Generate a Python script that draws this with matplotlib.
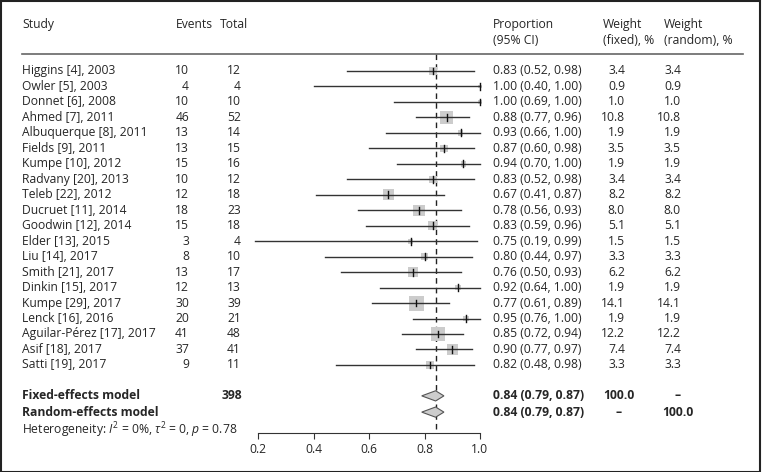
import matplotlib
matplotlib.use('Agg')
import matplotlib.pyplot as plt
from matplotlib.transforms import blended_transform_factory
from matplotlib.patches import Rectangle, Polygon
import numpy as np

plt.rcParams['font.family'] = ['Open Sans', 'DejaVu Sans']
plt.rcParams['mathtext.fontset'] = 'custom'
plt.rcParams['mathtext.rm'] = 'Open Sans'
plt.rcParams['mathtext.it'] = 'Open Sans:italic'

studies = ['Higgins [4], 2003', 'Owler [5], 2003', 'Donnet [6], 2008', 'Ahmed [7], 2011',
           'Albuquerque [8], 2011', 'Fields [9], 2011', 'Kumpe [10], 2012', 'Radvany [20], 2013',
           'Teleb [22], 2012', 'Ducruet [11], 2014', 'Goodwin [12], 2014', 'Elder [13], 2015',
           'Liu [14], 2017', 'Smith [21], 2017', 'Dinkin [15], 2017', 'Kumpe [29], 2017',
           'Lenck [16], 2016', 'Aguilar-Pérez [17], 2017', 'Asif [18], 2017', 'Satti [19], 2017']
events = [10, 4, 10, 46, 13, 13, 15, 10, 12, 18, 15, 3, 8, 13, 12, 30, 20, 41, 37, 9]
totals = [12, 4, 10, 52, 14, 15, 16, 12, 18, 23, 18, 4, 10, 17, 13, 39, 21, 48, 41, 11]
prop = [0.83, 1.00, 1.00, 0.88, 0.93, 0.87, 0.94, 0.83, 0.67, 0.78, 0.83, 0.75, 0.80, 0.76,
        0.92, 0.77, 0.95, 0.85, 0.90, 0.82]
lower = [0.52, 0.40, 0.69, 0.77, 0.66, 0.60, 0.70, 0.52, 0.41, 0.56, 0.59, 0.19, 0.44, 0.50,
         0.64, 0.61, 0.76, 0.72, 0.77, 0.48]
upper = [0.98, 1.00, 1.00, 0.96, 1.00, 0.98, 1.00, 0.98, 0.87, 0.93, 0.96, 0.99, 0.97, 0.93,
         1.00, 0.89, 1.00, 0.94, 0.97, 0.98]
w_fixed = [3.4, 0.9, 1.0, 10.8, 1.9, 3.5, 1.9, 3.4, 8.2, 8.0, 5.1, 1.5, 3.3, 6.2, 1.9, 14.1,
           1.9, 12.2, 7.4, 3.3]
w_random = w_fixed[:]

pooled = 0.84
pooled_lo = 0.79
pooled_hi = 0.87
total_n = 398

W, H = 762, 472
fig = plt.figure(figsize=(W / 100, H / 100), dpi=100)

# main axes spans the figure; x in proportion units, y in row units
x0px, x1px = 258, 480
sx = 0.8 / (x1px - x0px)
row0, rowh = 71, 15.47
ax = fig.add_axes([0, 0, 1, 1])
ax.set_xlim(0.2 - x0px * sx, 0.2 + (W - x0px) * sx)
ax.set_ylim((H - row0) / rowh, -row0 / rowh)
ax.axis('off')

tr = blended_transform_factory(fig.transFigure, ax.transData)
def px(x):
    return x / W

txt = '#262626'
fs = 8.75
n = len(studies)
rows = np.arange(n)
fixed_row = 21.0
random_row = 22.05
het_row = 23.2

# header
ax.text(px(22), -3.0, 'Study', transform=tr, fontsize=fs, color=txt, va='center')
ax.text(px(176), -3.0, 'Events', transform=tr, fontsize=fs, color=txt, va='center')
ax.text(px(220), -3.0, 'Total', transform=tr, fontsize=fs, color=txt, va='center')
ax.text(px(493), -3.0, 'Proportion', transform=tr, fontsize=fs, color=txt, va='center')
ax.text(px(493), -1.97, '(95% CI)', transform=tr, fontsize=fs, color=txt, va='center')
ax.text(px(603), -3.0, 'Weight', transform=tr, fontsize=fs, color=txt, va='center')
ax.text(px(603), -1.97, '(fixed), %', transform=tr, fontsize=fs, color=txt, va='center')
ax.text(px(664), -3.0, 'Weight', transform=tr, fontsize=fs, color=txt, va='center')
ax.text(px(664), -1.97, '(random), %', transform=tr, fontsize=fs, color=txt, va='center')
ax.plot([px(22), px(743)], [-1.1, -1.1], transform=tr, color='#666666', lw=1.2)

# reference line
ax.plot([pooled, pooled], [-1.1, 23.4], color='#222222', lw=1.0, ls=(0, (4, 3)), zorder=1)

# study rows
for i in range(n):
    y = rows[i]
    ax.text(px(22), y, studies[i], transform=tr, fontsize=fs, color=txt, va='center')
    ax.text(px(189), y, str(events[i]), transform=tr, fontsize=fs, color=txt, va='center', ha='right')
    ax.text(px(241), y, str(totals[i]), transform=tr, fontsize=fs, color=txt, va='center', ha='right')
    ax.text(px(493), y, '%.2f (%.2f, %.2f)' % (prop[i], lower[i], upper[i]), transform=tr,
            fontsize=fs, color=txt, va='center')
    ax.text(px(625), y, '%.1f' % w_fixed[i], transform=tr, fontsize=fs, color=txt, va='center', ha='right')
    ax.text(px(681), y, '%.1f' % w_random[i], transform=tr, fontsize=fs, color=txt, va='center', ha='right')
    side = 4.0 * np.sqrt(w_fixed[i])
    wx = side * sx
    hy = side / rowh
    ax.add_patch(Rectangle((prop[i] - wx / 2, y - hy / 2), wx, hy, facecolor='#cccccc',
                           edgecolor='none', zorder=2))
    ax.plot([lower[i], upper[i]], [y, y], color='#333333', lw=1.0, zorder=3)
    ax.plot([prop[i], prop[i]], [y - 0.22, y + 0.22], color='#111111', lw=1.0, zorder=4)

# pooled rows
for y in [fixed_row, random_row]:
    dh = 0.33
    ax.add_patch(Polygon([[pooled_lo, y], [pooled, y - dh], [pooled_hi, y], [pooled, y + dh]],
                         closed=True, facecolor='#cccccc', edgecolor='#555555', lw=0.8, zorder=3))

ax.text(px(22), fixed_row, 'Fixed-effects model', transform=tr, fontsize=fs, color=txt,
        va='center', weight='bold')
ax.text(px(242), fixed_row, str(total_n), transform=tr, fontsize=fs, color=txt, va='center',
        ha='right', weight='bold')
ax.text(px(493), fixed_row, '%.2f (%.2f, %.2f)' % (pooled, pooled_lo, pooled_hi), transform=tr,
        fontsize=fs, color=txt, va='center', weight='bold')
ax.text(px(619), fixed_row, '100.0', transform=tr, fontsize=fs, color=txt, va='center',
        ha='center', weight='bold')
ax.text(px(678), fixed_row, '–', transform=tr, fontsize=fs, color=txt, va='center',
        ha='center', weight='bold')

ax.text(px(22), random_row, 'Random-effects model', transform=tr, fontsize=fs, color=txt,
        va='center', weight='bold')
ax.text(px(493), random_row, '%.2f (%.2f, %.2f)' % (pooled, pooled_lo, pooled_hi), transform=tr,
        fontsize=fs, color=txt, va='center', weight='bold')
ax.text(px(619), random_row, '–', transform=tr, fontsize=fs, color=txt, va='center',
        ha='center', weight='bold')
ax.text(px(678), random_row, '100.0', transform=tr, fontsize=fs, color=txt, va='center',
        ha='center', weight='bold')

ax.text(px(22), het_row, r'Heterogeneity: $I^2$ = 0%, $\tau^2$ = 0, $p$ = 0.78', transform=tr,
        fontsize=fs, color=txt, va='center')

# x axis
axx = fig.add_axes([x0px / W, 1 - 433 / H, (x1px - x0px) / W, 0.001])
axx.set_xlim(0.2, 1.0)
axx.set_xticks([0.2, 0.4, 0.6, 0.8, 1.0])
axx.set_xticklabels(['0.2', '0.4', '0.6', '0.8', '1.0'])
axx.set_yticks([])
axx.patch.set_visible(False)
for s in ['top', 'left', 'right']:
    axx.spines[s].set_visible(False)
axx.spines['bottom'].set_color('#333333')
axx.tick_params(axis='x', length=4, color='#333333', labelsize=fs, labelcolor=txt, pad=3)

# frame
fig.patches.append(Rectangle((0.001, 0.001), 0.997, 0.997, transform=fig.transFigure,
                             fill=False, edgecolor='#222222', lw=1.5))

fig.savefig('out.png', dpi=100)
